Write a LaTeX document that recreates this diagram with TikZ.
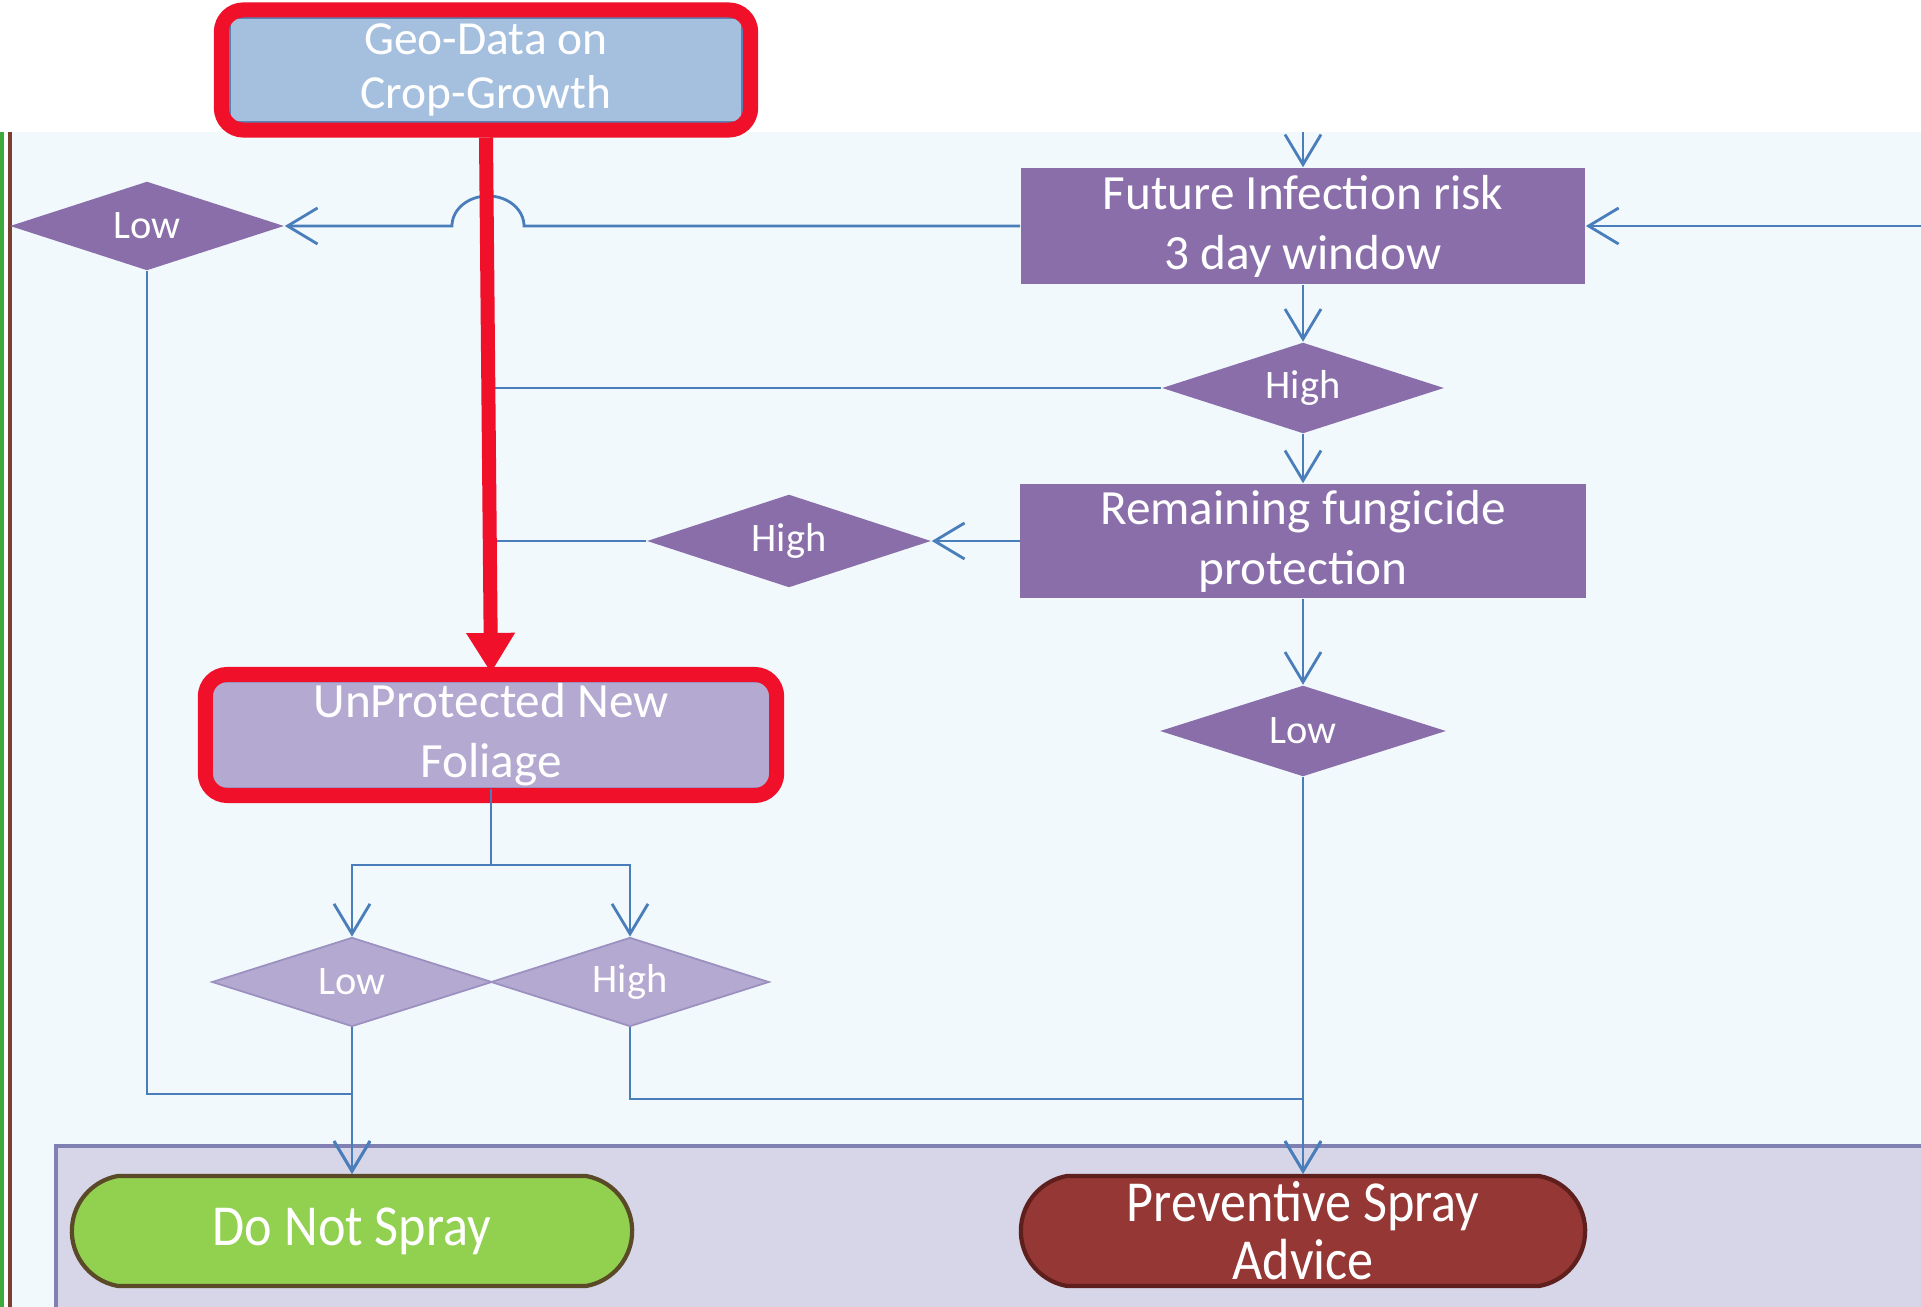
\documentclass[tikz,border=0pt]{standalone}
\usepackage{fontspec}
\setmainfont{Carlito}
\newfontfamily\narrowfont{Carlito}[FakeStretch=0.9]
\usetikzlibrary{arrows.meta,shapes.geometric,shapes.misc}

\definecolor{paneblue}{HTML}{F1F9FD}
\definecolor{lanebg}{HTML}{D6D6E8}
\definecolor{laneline}{HTML}{8080B2}
\definecolor{connblue}{HTML}{4A7EBB}
\definecolor{boxpurple}{HTML}{8A6EAA}
\definecolor{lavender}{HTML}{B4A9D0}
\definecolor{lavedge}{HTML}{9C90C0}
\definecolor{geoblue}{HTML}{A5C0DE}
\definecolor{geoedge}{HTML}{5A82B5}
\definecolor{alertred}{HTML}{F0102A}
\definecolor{sprayno}{HTML}{92D050}
\definecolor{spraynoedge}{HTML}{5B4A28}
\definecolor{sprayyes}{HTML}{953735}
\definecolor{sprayyesedge}{HTML}{5E1F1D}
\definecolor{edgegreen}{HTML}{3DAA3D}
\definecolor{edgebrown}{HTML}{7B3F2F}

\begin{document}
\begin{tikzpicture}[x=0.01cm,y=-0.01cm,
  procbox/.style={rectangle, fill=boxpurple, text=white, align=center,
    inner sep=0pt, font=\fontsize{14}{17}\selectfont},
  decide/.style={diamond, aspect=3, fill=boxpurple, text=white, inner sep=0pt,
    font=\fontsize{11.5}{13}\selectfont},
  lightdecide/.style={decide, fill=lavender, draw=lavedge, line width=0.5pt},
  endcap/.style={rounded rectangle, rounded rectangle arc length=160,
    text=white, align=center, inner sep=0pt, line width=1.2pt,
    minimum width=5.6cm, minimum height=1.10cm,
    font=\narrowfont\fontsize{16.5}{16.5}\selectfont},
  redframe/.style={rectangle, draw=alertred, line width=0.15cm,
    rounded corners=0.22cm, inner sep=0pt},
  connline/.style={draw=connblue, line width=0.8pt},
  arr/.style={connline, -{Straight Barb[length=0.3cm,width=0.36cm]}},
  redarrow/.style={draw=alertred, line width=0.14cm,
    -{Triangle[length=0.4cm,width=0.46cm]}}]

\useasboundingbox (0,0) rectangle (1921,1307);

% panels
\fill[white] (0,0) rectangle (1921,1307);
\fill[paneblue] (12,132) rectangle (1921,1307);
\draw[edgegreen, line width=1.2pt] (2,132) -- (2,1307);
\draw[edgebrown, line width=1.2pt] (10,132) -- (10,1307);
\fill[lanebg] (56,1146) rectangle (1921,1307);
\draw[laneline, line width=1.2pt] (1921,1146) -- (56,1146) -- (56,1307);

% nodes
\node[procbox, fill=geoblue, draw=geoedge, line width=0.6pt,
  minimum width=5.12cm, minimum height=1.04cm,
  font=\fontsize{13.5}{15.3}\selectfont] (geo) at (486,70) {Geo-Data on\\Crop-Growth};
\node[redframe, minimum width=5.29cm, minimum height=1.20cm] (geoframe) at (486,70) {};

\node[procbox, minimum width=5.64cm, minimum height=1.16cm] (future) at (1303,226)
  {Future Infection risk\\3 day window};
\node[decide, minimum width=2.82cm, minimum height=0.91cm] (highR) at (1303,388) {High};
\node[procbox, minimum width=5.65cm, minimum height=1.14cm] (remain) at (1303,541)
  {Remaining fungicide\\protection};
\node[decide, minimum width=2.84cm, minimum height=0.93cm] (highM) at (789,541) {High};
\node[decide, minimum width=2.86cm, minimum height=0.91cm] (lowR) at (1303,731) {Low};
\node[decide, minimum width=2.74cm, minimum height=0.89cm] (lowTL) at (147,226) {Low};

\node[procbox, fill=lavender, draw=lavedge, line width=0.6pt,
  minimum width=5.57cm, minimum height=1.06cm] (foliage) at (491,735)
  {UnProtected New\\Foliage};
\node[redframe, minimum width=5.71cm, minimum height=1.21cm] (folframe) at (491,735) {};

\node[lightdecide, minimum width=2.80cm, minimum height=0.89cm] (lowS) at (352,982) {Low};
\node[lightdecide, minimum width=2.78cm, minimum height=0.89cm] (highS) at (630,982) {High};

\node[endcap, fill=sprayno, draw=spraynoedge] (dns) at (352,1231) {Do Not Spray};
\node[endcap, fill=sprayyes, draw=sprayyesedge, minimum width=5.64cm] (psa) at (1303,1231)
  {Preventive Spray\\Advice};

% free ends and junctions
\coordinate (topin) at (1303,132);
\coordinate (rightin) at (1921,226);
\coordinate (j1) at (488,388);
\coordinate (j2) at (488,541);
\coordinate (jr) at (1303,1099);
\coordinate (jl) at (352,1094);
\coordinate (fs) at (491,865);

% connectors
\draw[arr] (topin) -- (future.north);
\draw[arr] (rightin) -- (future.east);
\draw[arr] (future.west) -- (524,226)
  arc[start angle=0, end angle=180, x radius=0.36cm, y radius=0.30cm]
  -- (lowTL.east);
\draw[arr] (future.south) -- (highR.north);
\draw[connline] (highR.west) -- (j1);
\draw[arr] (highR.south) -- (remain.north);
\draw[arr] (remain.west) -- (highM.east);
\draw[connline] (highM.west) -- (j2);
\draw[arr] (remain.south) -- (lowR.north);
\draw[arr] (lowR.south) -- (psa.north);
\draw[arr] (highS.south) |- (jr) -- (psa.north);
\draw[arr] (lowTL.south) |- (jl) -- (dns.north);
\draw[arr] (lowS.south) -- (dns.north);
\draw[connline] (foliage.south) -- (fs);
\draw[arr] (fs) -| (lowS.north);
\draw[arr] (fs) -| (highS.north);

% highlighted data flow
\draw[redarrow] (geoframe.south) -- ([yshift=-0.06cm]folframe.north);
\end{tikzpicture}
\end{document}
